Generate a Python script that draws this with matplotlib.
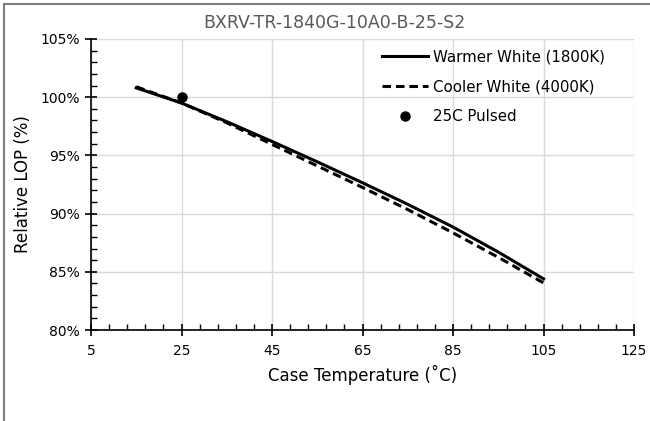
import matplotlib.pyplot as plt
from matplotlib.ticker import MultipleLocator, FuncFormatter
from matplotlib.lines import Line2D

plt.rcParams['font.family'] = ['DejaVu Sans']

# data
temps = [15, 25, 35, 45, 55, 65, 75, 85, 95, 105]
warm_lop = [100.8, 99.5, 97.9, 96.2, 94.45, 92.65, 90.8, 88.85, 86.7, 84.4]
cool_lop = [100.9, 99.5, 97.8, 95.95, 94.1, 92.25, 90.35, 88.35, 86.25, 84.05]
pulsed_temp = [25]
pulsed_lop = [100.0]

title = 'BXRV-TR-1840G-10A0-B-25-S2'

fig = plt.figure(figsize=(6.5, 4.21), dpi=100)
ax = fig.add_axes([0.14, 0.216, 0.8354, 0.6914])

# outer chart frame: only its left and top edges fall inside the image
fx, fy = 4 / 650, 1 - 4 / 421
fig.lines.append(Line2D([fx, fx], [0, fy], transform=fig.transFigure,
                        color='#7f7f7f', lw=1.5))
fig.lines.append(Line2D([fx, 1], [fy, fy], transform=fig.transFigure,
                        color='#7f7f7f', lw=1.5))

ax.plot(temps, warm_lop, color='black', lw=2.2, solid_joinstyle='round',
        label='Warmer White (1800K)')
ax.plot(temps, cool_lop, color='black', lw=2.2, ls=(0, (2.8, 1.6)),
        label='Cooler White (4000K)')
ax.plot(pulsed_temp, pulsed_lop, 'o', color='black', ms=6.5, label='25C Pulsed')

ax.set_xlim(5, 125)
ax.set_ylim(80, 105)
ax.xaxis.set_major_locator(MultipleLocator(20, offset=5))
ax.xaxis.set_minor_locator(MultipleLocator(4, offset=1))
ax.yaxis.set_major_locator(MultipleLocator(5))
ax.yaxis.set_minor_locator(MultipleLocator(1))
ax.yaxis.set_major_formatter(FuncFormatter(lambda v, p: f'{v:.0f}%'))

ax.grid(True, which='major', color='#d9d9d9', lw=1)
ax.set_axisbelow(True)
for s in ['top', 'right']:
    ax.spines[s].set_visible(False)
for s in ['left', 'bottom']:
    ax.spines[s].set_linewidth(1.2)
    ax.spines[s].set_zorder(3)

ax.tick_params(which='major', direction='inout', length=8, width=1.2,
               labelsize=10, colors='black', pad=6)
ax.tick_params(which='minor', direction='in', length=4, width=1)
ax.tick_params(axis='y', which='major', pad=4)

ax.set_xlabel('Case Temperature (˚C)', fontsize=12, labelpad=5)
ax.set_ylabel('Relative LOP (%)', fontsize=12, labelpad=6)

fig.text(334 / 650, 1 - 23 / 421, title, ha='center', va='center',
         fontsize=12.5, color='#595959')

ax.legend(loc='upper left', bbox_to_anchor=(0.516, 1.0), frameon=False,
          fontsize=10.8, handlelength=3.1, handletextpad=0.3,
          labelspacing=1.0, borderaxespad=0.3)

fig.savefig('out.png', dpi=100)
